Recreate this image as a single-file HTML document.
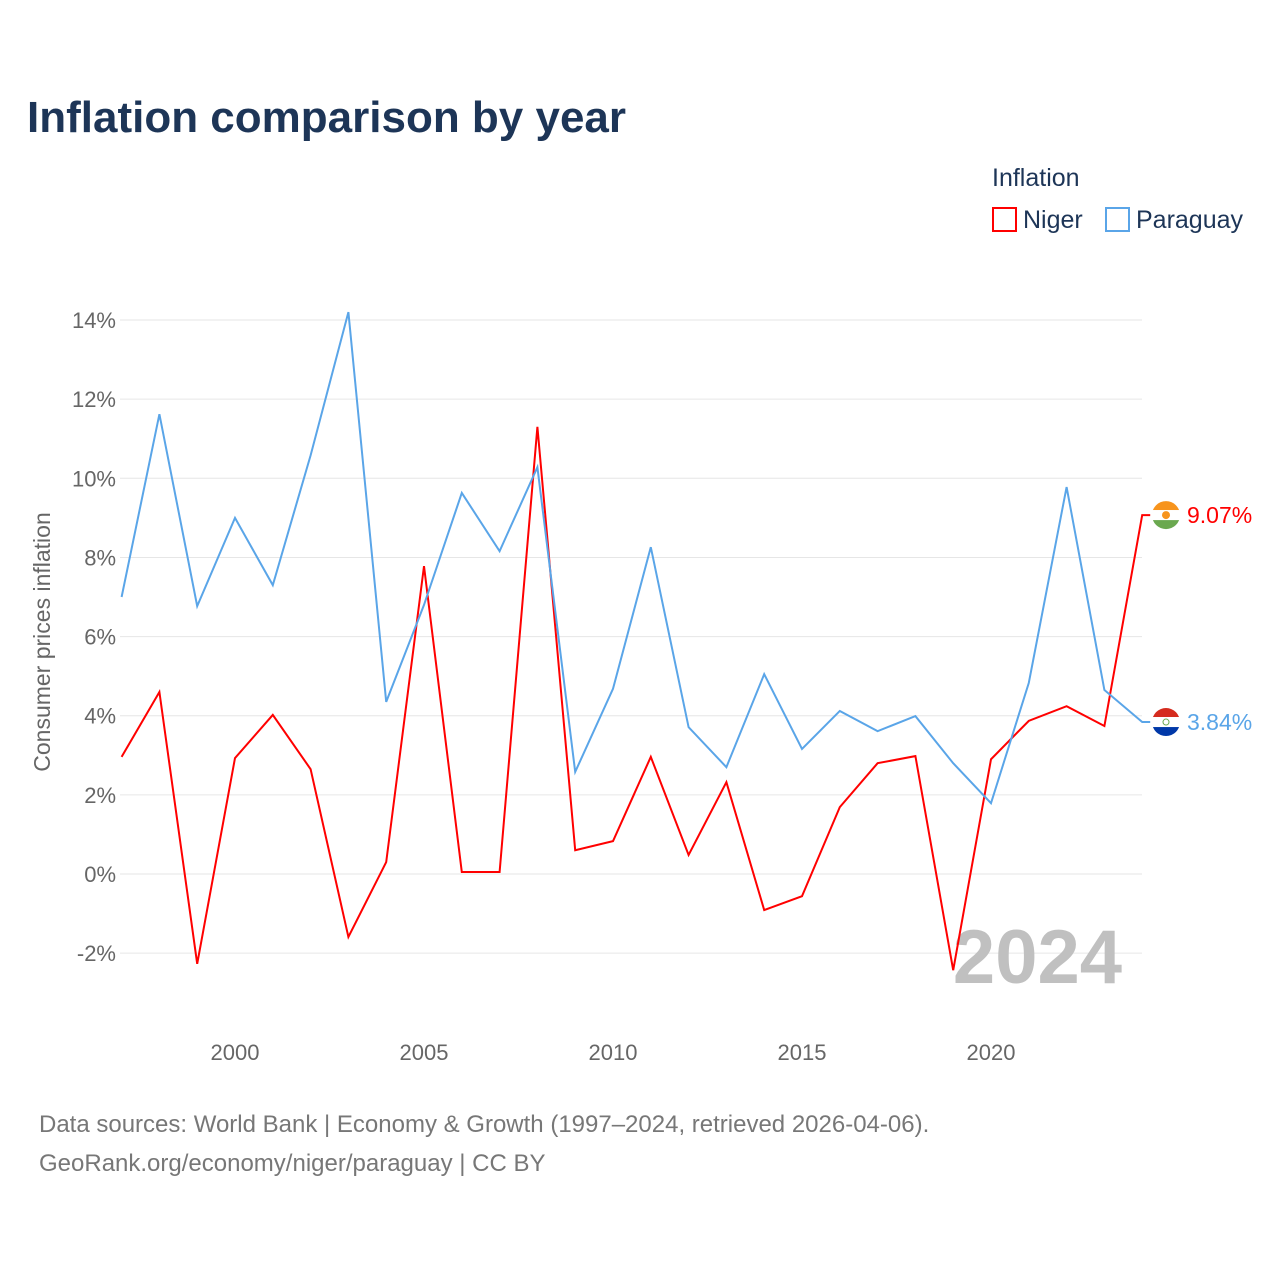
<!DOCTYPE html>
<html><head><meta charset="utf-8"><style>
body{margin:0;background:#fff;font-family:"Liberation Sans",sans-serif;}
svg text{font-family:"Liberation Sans",sans-serif;}
</style></head><body>
<svg id="c" width="1280" height="1280" viewBox="0 0 1280 1280">
<text x="27" y="132" font-size="44" font-weight="bold" fill="#1d3557">Inflation comparison by year</text>
<text x="992" y="186" font-size="25" fill="#1d3557">Inflation</text>
<g><rect x="993" y="208" width="23" height="23" fill="none" stroke="#ff0000" stroke-width="2"/><text x="1023" y="228" font-size="25" fill="#1d3557">Niger</text></g>
<g><rect x="1106" y="208" width="23" height="23" fill="none" stroke="#5aa5e8" stroke-width="2"/><text x="1136" y="228" font-size="25" fill="#1d3557">Paraguay</text></g>
<g id="grid"></g>
<g id="yt"></g>
<g id="xt"></g>
<text transform="translate(50,642) rotate(-90)" text-anchor="middle" font-size="23" fill="#666">Consumer prices inflation</text>
<text x="1122" y="983" text-anchor="end" font-size="76" font-weight="bold" fill="#c0c0c0">2024</text>
<defs id="defs"></defs>
<g id="lines"></g>
<text x="39" y="1132" font-size="24" fill="#777">Data sources: World Bank | Economy &amp; Growth (1997–2024, retrieved 2026-04-06).</text>
<text x="39" y="1171" font-size="24" fill="#777">GeoRank.org/economy/niger/paraguay | CC BY</text>
</svg>
<script>
const years=[1997,1998,1999,2000,2001,2002,2003,2004,2005,2006,2007,2008,2009,2010,2011,2012,2013,2014,2015,2016,2017,2018,2019,2020,2021,2022,2023,2024];
const niger=[2.96,4.6,-2.27,2.93,4.02,2.65,-1.59,0.3,7.78,0.05,0.05,11.3,0.6,0.83,2.96,0.48,2.32,-0.91,-0.56,1.69,2.8,2.98,-2.43,2.9,3.87,4.24,3.74,9.07];
const paraguay=[7.0,11.62,6.77,9.0,7.3,10.58,14.2,4.35,6.8,9.63,8.16,10.28,2.58,4.68,8.26,3.71,2.7,5.05,3.16,4.12,3.61,3.99,2.8,1.79,4.83,9.78,4.65,3.84];
const yTicks=[-2,0,2,4,6,8,10,12,14];
const xTicks=[2000,2005,2010,2015,2020];
const NS="http://www.w3.org/2000/svg";
const X=y=>235+(y-2000)*37.8;
const Y=v=>874-v*39.57;
function mk(t,a,p){const e=document.createElementNS(NS,t);for(const k in a)e.setAttribute(k,a[k]);p.appendChild(e);return e;}
const grid=document.getElementById('grid'),yt=document.getElementById('yt'),xt=document.getElementById('xt'),lines=document.getElementById('lines'),defs=document.getElementById('defs');
yTicks.forEach(v=>{
 const l=mk('line',{x1:120,x2:1142,y1:Y(v),y2:Y(v),stroke:'#e6e6e6','stroke-width':1},grid);
 
 
 const t=mk('text',{x:116,y:Y(v)+8,'text-anchor':'end','font-size':22,fill:'#666'},yt);
 t.textContent=v+'%';
 
 
});
xTicks.forEach(v=>{
 const t=mk('text',{x:X(v),y:1060,'text-anchor':'middle','font-size':22,fill:'#666'},xt);
 t.textContent=v;
 
 
});
function series(vals,color,name){
 const pts=vals.map((v,i)=>X(years[i])+','+Y(v));
 const last=vals[vals.length-1];
 pts.push((X(years[years.length-1])+8)+','+Y(last));
 const p=mk('polyline',{points:pts.join(' '),fill:'none',stroke:color,'stroke-width':2,'stroke-linejoin':'miter'},lines);
 
 
 const t=mk('text',{x:1187,y:Y(last)+8,'font-size':23,fill:color},lines);
 t.textContent=last.toFixed(2)+'%';
 
 
 return Y(last);
}
const yn=series(niger,'#ff0000','niger');
const yp=series(paraguay,'#5aa5e8','paraguay');
function flag(cy,cols,name,emblem){
 const cp=mk('clipPath',{id:'cp-'+name},defs);
 mk('circle',{cx:1166,cy:cy,r:14},cp);
 const g=mk('g',{'clip-path':'url(#cp-'+name+')'},lines);
 
 
 mk('rect',{x:1150,y:cy-15,width:32,height:10,fill:cols[0]},g);
 mk('rect',{x:1150,y:cy-5,width:32,height:10,fill:cols[1]},g);
 mk('rect',{x:1150,y:cy+5,width:32,height:10,fill:cols[2]},g);
 mk('circle',emblem,g);
}
flag(yn,['#f7941d','#fff','#6aa84f'],'niger',{cx:1166,cy:yn,r:4,fill:'#f7941d'});
flag(yp,['#d52b1e','#fff','#0038a8'],'paraguay',{cx:1166,cy:yp,r:3,fill:'none',stroke:'#6aa84f','stroke-width':1});
</script>
</body></html>
